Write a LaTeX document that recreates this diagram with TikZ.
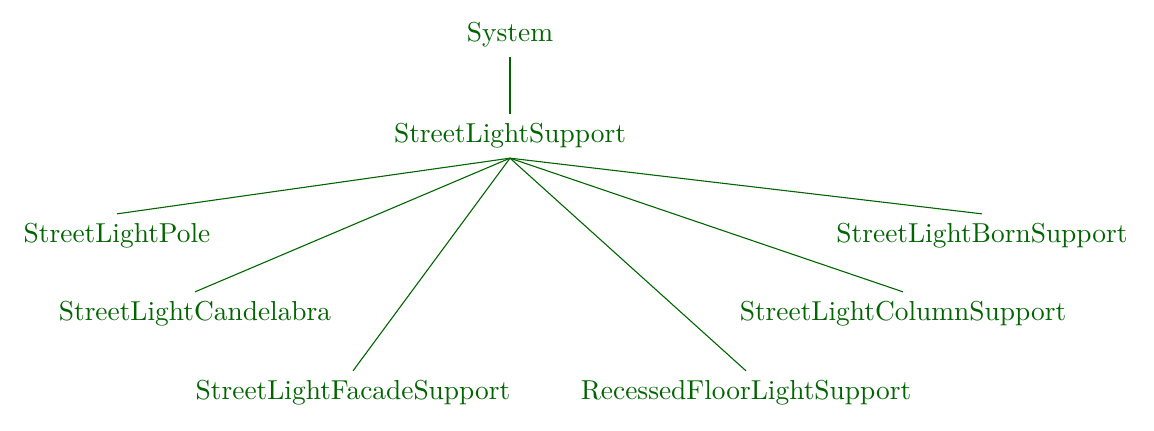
\documentclass[tikz,border=0pt]{standalone}
\definecolor{treegreen}{RGB}{0,100,0}
\begin{document}
\begin{tikzpicture}[x=0.365pt,y=-0.365pt,
  treenode/.style={text=treegreen,inner sep=0.333em},
  edge/.style={draw=treegreen,line width=0.4pt}]
\useasboundingbox (0,0) rectangle (1154,430);
\node[treenode] (sys) at (510,35) {System};
\node[treenode] (sls) at (510,136) {StreetLightSupport};
\node[treenode] (pole) at (117,236) {StreetLightPole};
\node[treenode] (cand) at (195,314) {StreetLightCandelabra};
\node[treenode] (fac) at (353,393) {StreetLightFacadeSupport};
\node[treenode] (rec) at (746,393) {RecessedFloorLightSupport};
\node[treenode] (col) at (903,314) {StreetLightColumnSupport};
\node[treenode] (born) at (982,236) {StreetLightBornSupport};
\draw[edge] (sys.south) -- (sls.north);
\foreach \c in {pole,cand,fac,rec,col,born}
  \draw[edge] (sls.south) -- (\c.north);
\end{tikzpicture}
\end{document}
